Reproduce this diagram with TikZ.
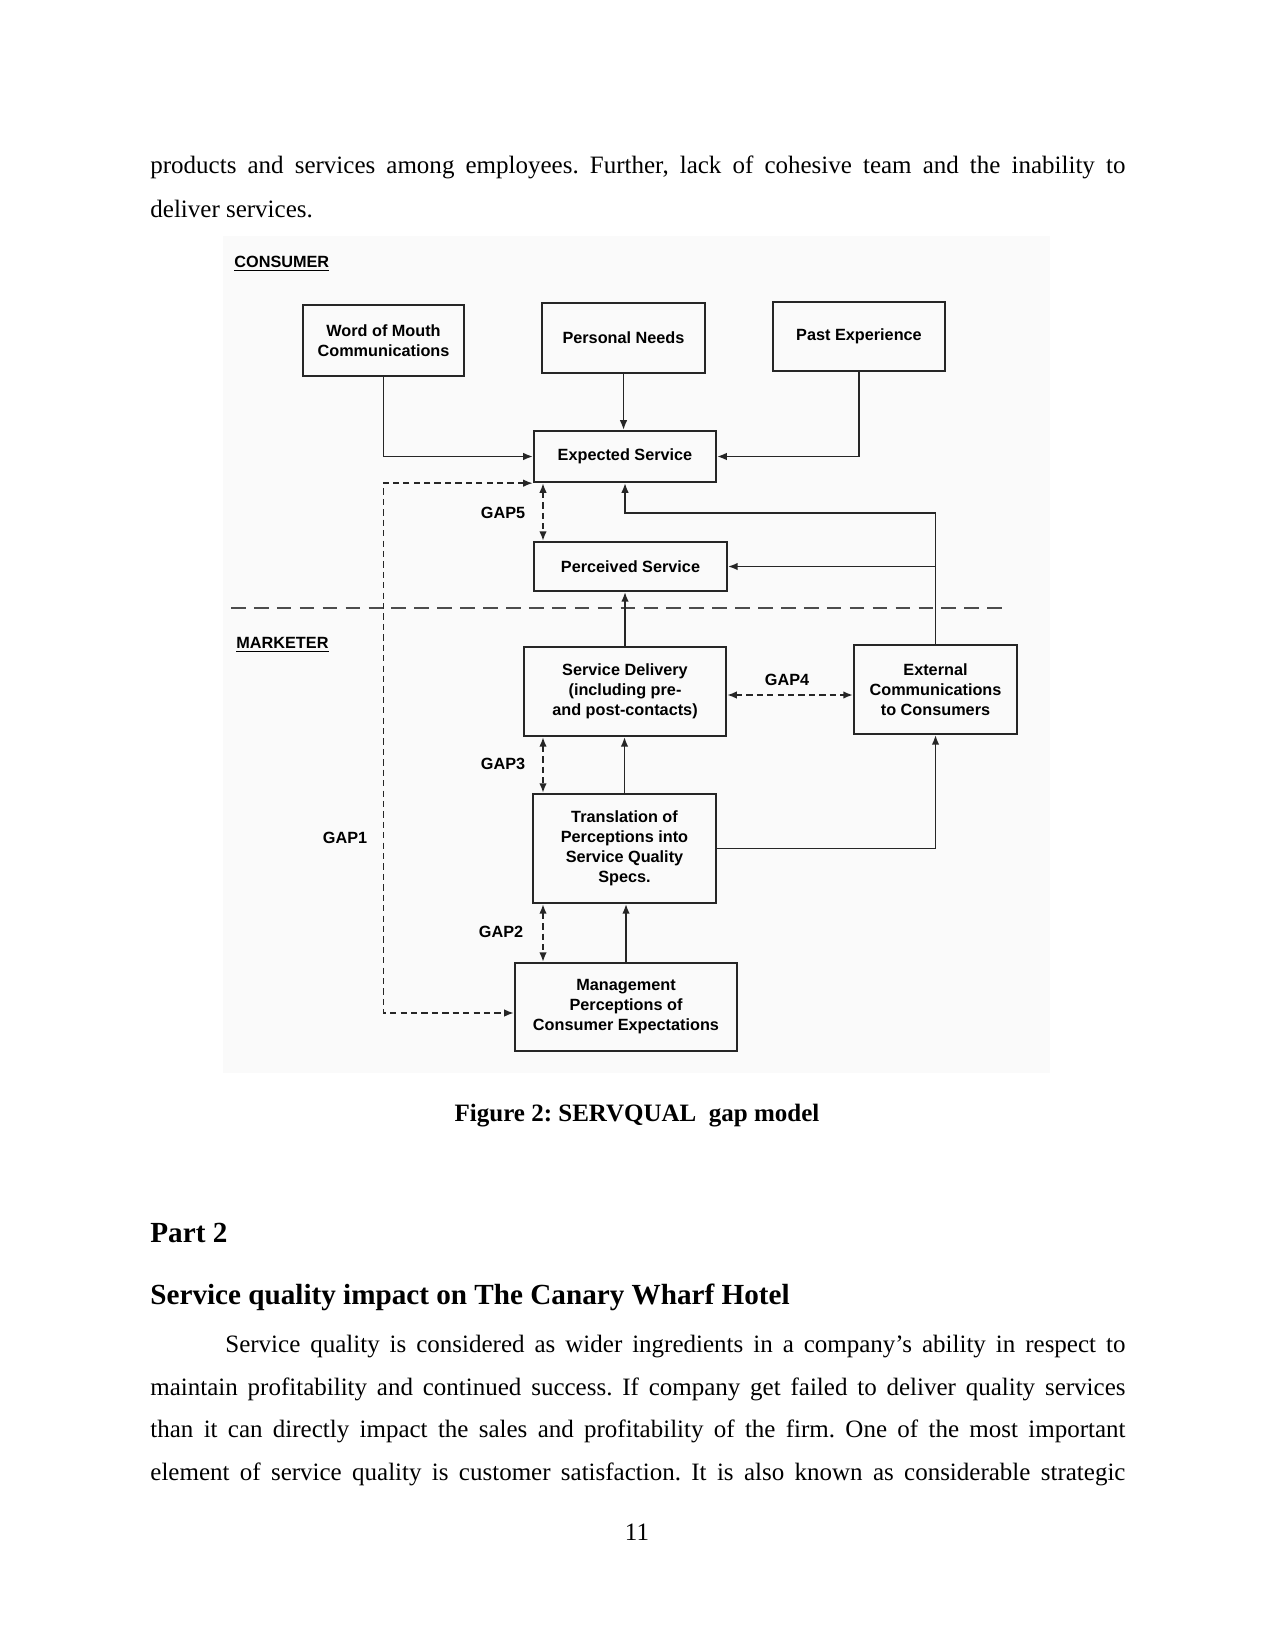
\documentclass[tikz,border=0pt]{standalone}
\usepackage{fontspec}
\setmainfont{Liberation Serif}
\newfontfamily\diagfont{Liberation Sans}
\usetikzlibrary{arrows.meta}
\frenchspacing

\begin{document}
\begin{tikzpicture}[
  x=0.48pt,y=-0.48pt,
  every node/.style={font=\diagfont\bfseries\fontsize{7.8}{9.6}\selectfont,align=center},
  box/.style={draw=black!85,line width=1.1pt,inner sep=2pt},
  arr/.style={-{Latex[length=4.6pt,width=3.6pt]},line width=0.7pt,draw=black!85},
  gap/.style={{Latex[length=4.6pt,width=3.6pt]}-{Latex[length=4.6pt,width=3.6pt]},
              line width=0.8pt,dash pattern=on 3pt off 2pt,draw=black!85},
  sep/.style={line width=1.2pt,dash pattern=on 7pt off 4pt,draw=black!70},
  body/.style={font=\fontsize{12}{14}\selectfont,anchor=base west,inner sep=0pt},
  bodyjust/.style={body},
  head/.style={font=\bfseries\fontsize{14}{16}\selectfont,anchor=base west,inner sep=0pt}
]
\useasboundingbox (0,0) rectangle (1275,1650);
\fill[black!2] (223,236) rectangle (1050,1073);

% text above the figure
\node[bodyjust] (l1) at (150,174) {\makebox[468pt][s]{products and services among employees. Further, lack of cohesive team and the inability to}};
\node[body] (l2) at (150,218) {deliver services.};

% consumer side
\node[anchor=west,inner sep=0pt] (cons) at (234,264) {\underline{CONSUMER}};
\node[box,minimum width=77.3pt,minimum height=34.1pt] (wom) at (383.5,340.5) {Word of Mouth\\Communications};
\node[box,minimum width=78.2pt,minimum height=33.6pt] (pers) at (623.5,338) {Personal Needs};
\node[box,minimum width=82.6pt,minimum height=33.1pt] (past) at (859,336.5) {Past Experience};
\node[box,minimum width=87.4pt,minimum height=24.5pt] (exp) at (625,456.5) {Expected Service};
\node[box,minimum width=92.6pt,minimum height=23.5pt] (perc) at (630.5,566.5) {Perceived Service};

\draw[sep] (231,608) -- (1005,608);

% marketer side
\node[anchor=west,inner sep=0pt] (mark) at (236,645) {\underline{MARKETER}};
\node[box,minimum width=97pt,minimum height=42.7pt] (deliv) at (625,691.5) {Service Delivery\\(including pre-\\and post-contacts)};
\node[box,minimum width=78.2pt,minimum height=42.7pt] (ext) at (935.5,689.5) {External\\Communications\\to Consumers};
\node[box,minimum width=87.8pt,minimum height=52.3pt] (trans) at (624.5,848.5) {Translation of\\Perceptions into\\Service Quality\\Specs.};
\node[box,minimum width=106.6pt,minimum height=42.2pt] (mgmt) at (626,1007) {Management\\Perceptions of\\Consumer Expectations};

% solid links
\draw[arr] (wom.south) |- (exp.west);
\draw[arr] (past.south) |- (exp.east);
\draw[arr] (pers.south) -- (pers.south |- exp.north);
\draw[arr] (ext.north) -- (ext.north |- 0,513) -| (exp.south);
\draw[arr] (ext.north |- perc.east) -- (perc.east);
\draw[arr] (deliv.north) -- (deliv.north |- perc.south);
\draw[arr] (trans.north) -- (trans.north |- deliv.south);
\draw[arr] (mgmt.north) -- (mgmt.north |- trans.south);
\draw[arr] (trans.east) -| (ext.south);

% gaps
\coordinate (gx) at (543,0);
\draw[gap] (exp.south west) -- (wom.south |- exp.south west) -- (wom.south |- 0,1013) -- (mgmt.west |- 0,1013);
\draw[gap] (gx |- exp.south) -- (gx |- perc.north);
\draw[gap] (gx |- deliv.south) -- (gx |- trans.north);
\draw[gap] (gx |- trans.south) -- (gx |- mgmt.north);
\draw[gap] (deliv.east |- 0,695) -- (ext.west |- 0,695);
\node (g5) at (503,513) {GAP5};
\node (g4) at (787,680) {GAP4};
\node (g3) at (503,764) {GAP3};
\node (g2) at (501,932) {GAP2};
\node (g1) at (345,838) {GAP1};

% caption and following text
\node[font=\bfseries\fontsize{12}{14}\selectfont,anchor=base,inner sep=0pt] (cap) at (637,1121) {Figure 2: SERVQUAL\ \ gap model};
\node[head] (part) at (150,1242) {Part 2};
\node[head] (sec) at (150,1304) {Service quality impact on The Canary Wharf Hotel};
\node[bodyjust] (p1) at (225,1352) {\makebox[432pt][s]{Service quality is considered as wider ingredients in a company’s ability in respect to}};
\node[bodyjust] (p2) at (150,1395) {\makebox[468pt][s]{maintain profitability and continued success. If company get failed to deliver quality services}};
\node[bodyjust] (p3) at (150,1437) {\makebox[468pt][s]{than it can directly impact the sales and profitability of the firm. One of the most important}};
\node[bodyjust] (p4) at (150,1480) {\makebox[468pt][s]{element of service quality is customer satisfaction. It is also known as considerable strategic}};
\node[font=\fontsize{12}{14}\selectfont,anchor=base,inner sep=0pt] (pnum) at (637,1540) {11};
\end{tikzpicture}
\end{document}
